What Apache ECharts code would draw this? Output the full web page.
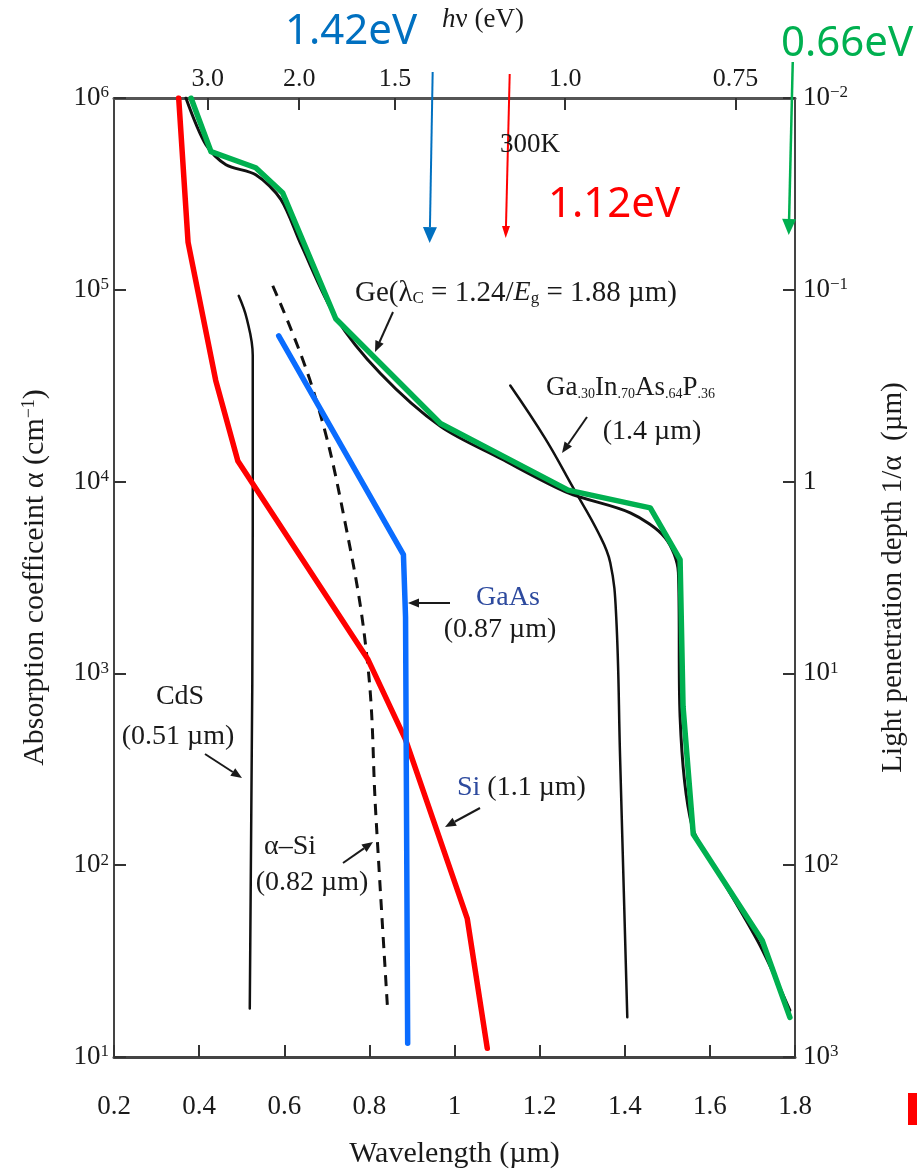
<!DOCTYPE html>
<html><head><meta charset="utf-8">
<script src="https://cdn.jsdelivr.net/npm/echarts@6/dist/echarts.min.js"></script>
<style>html,body{margin:0;padding:0;background:#fff}#c{width:917px;height:1174px}</style>
</head><body><div id="c"></div>
<script>
// ---------- data (wavelength in µm, absorption coefficient in cm^-1) ----------
const geWl      = [0.381, 0.428, 0.533, 0.596, 0.721, 0.967, 1.267, 1.460, 1.530, 1.537, 1.561, 1.723, 1.788];
const geAlpha   = [1e6, 5.25e5, 4.33e5, 3.21e5, 7.06e4, 2.01e4, 9.03e3, 7.3e3, 3.92e3, 670, 145, 40.5, 16.1];
const geRefWl    = [0.369, 0.416, 0.463, 0.533, 0.592, 0.639, 0.721, 0.826, 0.967, 1.108, 1.267, 1.413, 1.495, 1.526, 1.530, 1.558, 1.624, 1.718, 1.788];
const geRefAlpha = [1e6, 5.7e5, 4.49e5, 3.98e5, 2.96e5, 1.73e5, 7.2e4, 3.66e4, 1.94e4, 1.32e4, 8.73e3, 6.87e3, 5.1e3, 3.36e3, 594, 160, 87.9, 38.1, 17.5];
const siWl      = [0.352, 0.374, 0.439, 0.491, 0.796, 0.885, 1.030, 1.077];
const siAlpha   = [1e6, 1.77e5, 3.37e4, 1.28e4, 1.19e3, 452, 52.6, 11.1];
const gaasWl    = [0.587, 0.880, 0.885, 0.890];
const gaasAlpha = [5.75e4, 4.16e3, 1.96e3, 11.8];
const cdsWl     = [0.493, 0.512, 0.526, 0.526, 0.519];
const cdsAlpha  = [9.3e4, 7.06e4, 4.54e4, 5.74e3, 17.9];
const aSiWl     = [0.573, 0.669, 0.744, 0.796, 0.815, 0.843];
const aSiAlpha  = [1.05e5, 2.95e4, 5.96e3, 1.12e3, 187, 17.5];
const gipWl     = [1.131, 1.213, 1.279, 1.338, 1.366, 1.380, 1.389, 1.406];
const gipAlpha  = [3.17e4, 1.68e4, 9.27e3, 5.41e3, 3.78e3, 1.96e3, 368, 16.1];

// ---------- tick labels ----------
const bottomTicks = [0.2, 0.4, 0.6, 0.8, 1.0, 1.2, 1.4, 1.6, 1.8];
const bottomTickLabels = ['0.2', '0.4', '0.6', '0.8', '1', '1.2', '1.4', '1.6', '1.8'];
const topTickWl = [0.42, 0.635, 0.86, 1.26, 1.66];
const topTickLabels = ['3.0', '2.0', '1.5', '1.0', '0.75'];
const bandGapWl = [0.944, 1.125, 1.79];   // positions of the 1.42 / 1.12 / 0.66 eV arrows
const bandGapLabels = ['1.42eV', '1.12eV', '0.66eV'];

const serif = 'Liberation Serif';
const sans = 'Noto Sans';
const ink = '#1a1a1a';

function pairs(xs, ys) { return xs.map((x, i) => [x, ys[i]]); }
function expLabel(v) {
  const e = Math.round(Math.log10(v));
  if (e === 0) return '{b|1}';
  return '{b|10}{sup|' + (e < 0 ? '−' + (-e) : e) + '}';
}
const tickRich = {
  b: { fontFamily: serif, fontSize: 27, color: ink },
  sup: { fontFamily: serif, fontSize: 17, color: ink, verticalAlign: 'top', padding: [0, 0, 8, 0] }
};

function lineSeries(name, xs, ys, color, width, opts) {
  return Object.assign({
    name, type: 'line', data: pairs(xs, ys), symbol: 'none', silent: true,
    lineStyle: { color, width, cap: 'round', join: 'round' }
  }, opts || {});
}

const chart = echarts.init(document.getElementById('c'), null, { renderer: 'canvas' });

const option = {
  backgroundColor: '#fff',
  animation: false,
  grid: { left: 114, right: 122, top: 98, bottom: 112, containLabel: false },
  xAxis: [
    {
      type: 'value', min: 0.2, max: 1.8, interval: 0.2, position: 'bottom',
      name: 'Wavelength (µm)', nameLocation: 'middle', nameGap: 82,
      nameTextStyle: { fontFamily: serif, fontSize: 30, color: ink },
      axisLine: { lineStyle: { color: '#444', width: 3 } },
      axisTick: { inside: true, length: 12, lineStyle: { color: '#333', width: 2 } },
      axisLabel: { margin: 36, fontFamily: serif, fontSize: 27, color: ink,
        formatter: v => { const i = bottomTicks.findIndex(t => Math.abs(t - v) < 1e-6); return i >= 0 ? bottomTickLabels[i] : ''; } },
      splitLine: { show: false }
    },
    {
      type: 'value', min: 0.2, max: 1.8, position: 'top',
      axisLine: { lineStyle: { color: '#555', width: 3 } },
      axisTick: { inside: true, length: 12, customValues: topTickWl, lineStyle: { color: '#333', width: 2 } },
      axisLabel: { margin: 6, fontFamily: serif, fontSize: 26, color: ink, customValues: topTickWl,
        formatter: v => { let bi = 0; topTickWl.forEach((t, i) => { if (Math.abs(t - v) < Math.abs(topTickWl[bi] - v)) bi = i; }); return topTickLabels[bi]; } },
      splitLine: { show: false }
    }
  ],
  yAxis: [
    {
      type: 'log', logBase: 10, min: 10, max: 1e6, position: 'left',
      name: 'Absorption coefficeint α (cm{sup|−1})', nameLocation: 'middle', nameGap: 64, nameRotate: 90,
      nameTextStyle: { fontFamily: serif, fontSize: 30, color: ink,
        rich: { sup: { fontFamily: serif, fontSize: 18, color: ink, verticalAlign: 'top', padding: [0, 0, 9, 0] } } },
      axisLine: { lineStyle: { color: '#444', width: 2 } },
      axisTick: { inside: true, length: 12, lineStyle: { color: '#333', width: 2 } },
      axisLabel: { margin: 5, formatter: expLabel, rich: tickRich },
      splitLine: { show: false }, minorTick: { show: false }
    },
    {
      type: 'log', logBase: 10, min: 0.01, max: 1000, inverse: true, position: 'right',
      name: 'Light penetration depth 1/α  (µm)', nameLocation: 'middle', nameGap: 84, nameRotate: 90,
      nameTextStyle: { fontFamily: serif, fontSize: 29, color: ink },
      axisLine: { lineStyle: { color: '#444', width: 2 } },
      axisTick: { inside: true, length: 12, lineStyle: { color: '#333', width: 2 } },
      axisLabel: { margin: 8, formatter: expLabel, rich: tickRich },
      splitLine: { show: false }
    }
  ],
  series: [
    lineSeries('Ge ref', geRefWl, geRefAlpha, '#111', 3, { smooth: 0.3, z: 2 }),
    lineSeries('Si ref', siWl, siAlpha, '#23308f', 3, { z: 2 }),
    lineSeries('GaAs ref', gaasWl, gaasAlpha, '#23308f', 3, { z: 2 }),
    lineSeries('CdS', cdsWl, cdsAlpha, '#111', 2.5, { smooth: 0.4, z: 2 }),
    lineSeries('a-Si', aSiWl, aSiAlpha, '#111', 2.5, { smooth: 0.4, z: 2, lineStyle: { color: '#111', width: 3, type: [11, 8] } }),
    lineSeries('GaInAsP', gipWl, gipAlpha, '#111', 2.5, { smooth: 0.4, z: 2 }),
    lineSeries('Ge', geWl, geAlpha, '#00b050', 5.5, { z: 3 }),
    lineSeries('Si', siWl, siAlpha, '#ff0000', 5.5, { z: 3 }),
    lineSeries('GaAs', gaasWl, gaasAlpha, '#0a6cff', 5.5, { z: 3 })
  ]
};
chart.setOption(option);

// ---------- annotations ----------
function arrow(x1, y1, x2, y2, color, w, hl, hw) {
  const dx = x2 - x1, dy = y2 - y1, L = Math.hypot(dx, dy), ux = dx / L, uy = dy / L;
  const bx = x2 - ux * hl, by = y2 - uy * hl;
  return [
    { type: 'line', silent: true, z: 10, shape: { x1, y1, x2: bx, y2: by }, style: { stroke: color, lineWidth: w } },
    { type: 'polygon', silent: true, z: 10, shape: { points: [[x2, y2], [bx - uy * hw, by + ux * hw], [bx + uy * hw, by - ux * hw]] }, style: { fill: color } }
  ];
}
const FS = 28;
function txt(x, y, text, opt) {
  return { type: 'text', silent: true, z: 11, x, y, style: Object.assign({
    text, fontFamily: serif, fontSize: FS, fill: ink, align: 'center', verticalAlign: 'middle'
  }, opt || {}) };
}
const subRich = {
  sub: { fontFamily: serif, fontSize: 17, fill: ink, verticalAlign: 'bottom', padding: [12, 0, 0, 0] },
  it: { fontFamily: serif, fontSize: FS, fontStyle: 'italic', fill: ink },
  navy: { fontFamily: serif, fontSize: FS, fill: '#2d4a9e' }
};
const gaRich = {
  sub: { fontFamily: serif, fontSize: 14, fill: ink, verticalAlign: 'bottom', padding: [12, 0, 0, 0] }
};

const gx = bandGapWl.map(w => chart.convertToPixel({ xAxisIndex: 0 }, w));
const gfx = [];
gfx.push(...arrow(gx[0] + 2, 72, gx[0] - 1, 243, '#0070c0', 2, 16, 7));
gfx.push(...arrow(gx[1] + 2, 74, gx[1] - 2, 238, '#ff0000', 2, 12, 4));
gfx.push(...arrow(gx[2] + 2, 62, gx[2] - 2, 235, '#00b050', 2.5, 16, 7));
gfx.push(txt(351, 32, bandGapLabels[0], { fontFamily: sans, fontSize: 42, fill: '#0070c0' }));
gfx.push(txt(614, 205, bandGapLabels[1], { fontFamily: sans, fontSize: 42, fill: '#ff0000' }));
gfx.push(txt(847, 44, bandGapLabels[2], { fontFamily: sans, fontSize: 42, fill: '#00b050' }));
gfx.push(txt(483, 20, '{it|h}ν (eV)', { fontSize: 27, rich: { it: { fontFamily: serif, fontSize: 27, fontStyle: 'italic', fill: ink } } }));
gfx.push(txt(530, 145, '300K', { fontSize: 27 }));
gfx.push(txt(355, 293, 'Ge(λ{sub|C} = 1.24/{it|E}{sub|g} = 1.88 µm)', { align: 'left', fontSize: 29, rich: subRich }));
gfx.push(...arrow(393, 312, 375, 352, ink, 2, 11, 4.5));
gfx.push(txt(546, 388, 'Ga{sub|.30}In{sub|.70}As{sub|.64}P{sub|.36}', { align: 'left', fontSize: 27, rich: gaRich }));
gfx.push(txt(652, 432, '(1.4 µm)'));
gfx.push(...arrow(587, 417, 562, 453, ink, 2, 11, 4.5));
gfx.push(txt(508, 598, 'GaAs', { fill: '#2d4a9e' }));
gfx.push(txt(500, 630, '(0.87 µm)'));
gfx.push(...arrow(450, 603, 408, 603, ink, 2, 11, 4.5));
gfx.push(txt(180, 697, 'CdS'));
gfx.push(txt(178, 737, '(0.51 µm)'));
gfx.push(...arrow(205, 754, 242, 778, ink, 2, 11, 4.5));
gfx.push(txt(457, 788, '{navy|Si} (1.1 µm)', { align: 'left', rich: subRich }));
gfx.push(...arrow(480, 808, 445, 827, ink, 2, 11, 4.5));
gfx.push(txt(290, 847, 'α–Si'));
gfx.push(txt(312, 883, '(0.82 µm)'));
gfx.push(...arrow(343, 863, 373, 842, ink, 2, 11, 4.5));
gfx.push({ type: 'rect', silent: true, shape: { x: 908, y: 1093, width: 9, height: 32 }, style: { fill: '#ff0000' } });
chart.setOption({ graphic: { elements: gfx } });
</script>
</body></html>
